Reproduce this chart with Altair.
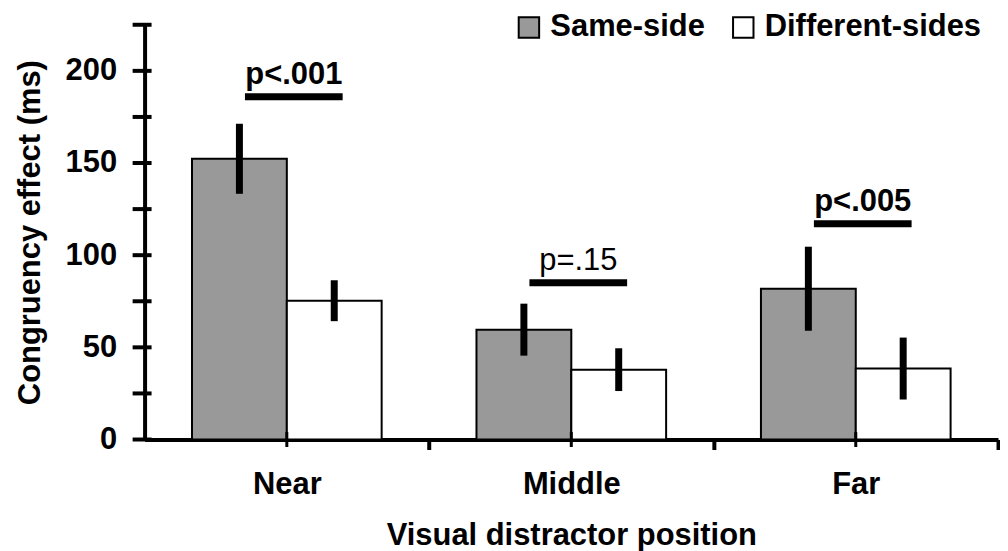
import altair as alt
import pandas as pd

positions = ["Near", "Middle", "Far"]
conditions = ["Same-side", "Different-sides"]
same_means = [152.3, 59.6, 81.8]
same_errs = [19.0, 14.1, 22.8]
diff_means = [75.3, 37.9, 38.5]
diff_errs = [11.1, 11.6, 16.8]
sig_labels = ["p<.001", "p=.15", "p<.005"]
sig_heights = [186, 85, 117]
sig_bold = [True, False, True]
y_tick_values = [0, 25, 50, 75, 100, 125, 150, 175, 200, 225]
bar_colors = ["#999999", "#ffffff"]

rows = []
for i, p in enumerate(positions):
    rows.append(dict(position=p, condition=conditions[0], mean=same_means[i], err=same_errs[i]))
    rows.append(dict(position=p, condition=conditions[1], mean=diff_means[i], err=diff_errs[i]))
bars_df = pd.DataFrame(rows)
sig_df = pd.DataFrame(dict(position=positions, label=sig_labels, height=sig_heights, bold=sig_bold))
axis_df = pd.DataFrame(dict(position=positions))
ytick_df = pd.DataFrame(dict(tick=y_tick_values))

FONT = "Liberation Sans"
PLOT_W = 856
PLOT_H = 416
HALF_STEP = PLOT_W / len(positions) / 2

x_scale = alt.Scale(domain=positions, paddingInner=1 / 3, paddingOuter=1 / 6)
y_scale = alt.Scale(domain=[0, 225], nice=False, zero=True)
xoff = alt.XOffset("condition:N", sort=conditions,
                   scale=alt.Scale(domain=conditions, paddingInner=0, paddingOuter=0))

common_axis = dict(tickColor="black", tickWidth=4, domainColor="black", domainWidth=4,
                   grid=False)
x_axis = alt.Axis(title="Visual distractor position", labelAngle=0,
                  tickOffset=HALF_STEP, labelOffset=-HALF_STEP,
                  tickSize=10, labelPadding=20, titlePadding=21, **common_axis)
y_axis = alt.Axis(title="Congruency effect (ms)", values=y_tick_values,
                  labelExpr="datum.value % 50 === 0 ? datum.label : ''",
                  ticks=False, labelPadding=28, titlePadding=19, **common_axis)

x_enc = alt.X("position:N", sort=positions, scale=x_scale, axis=x_axis)


def y_enc(field):
    return alt.Y(field, scale=y_scale, axis=y_axis)


bars = alt.Chart(bars_df).mark_bar(stroke="black", strokeWidth=2).encode(
    x=x_enc,
    xOffset=xoff,
    y=y_enc("mean:Q"),
    fill=alt.Fill("condition:N", sort=conditions,
                  scale=alt.Scale(domain=conditions, range=bar_colors),
                  legend=alt.Legend(title=None, orient="none", legendX=370, legendY=-13,
                                    direction="horizontal", symbolType="square",
                                    symbolSize=420, symbolStrokeColor="black",
                                    symbolStrokeWidth=2, labelFont=FONT,
                                    labelFontSize=31, labelFontWeight="bold",
                                    labelColor="black", labelOffset=6,
                                    columnPadding=22, labelLimit=400)),
)

errs = alt.Chart(bars_df).transform_calculate(
    lo="datum.mean - datum.err", hi="datum.mean + datum.err"
).mark_rule(color="black", strokeWidth=7).encode(
    x=x_enc,
    xOffset=xoff,
    y=y_enc("lo:Q"),
    y2="hi:Q",
)

# y-axis tick marks crossing the axis line, placed through the y scale
y_ticks = alt.Chart(ytick_df).mark_rule(color="black", strokeWidth=4).encode(
    x=alt.value(-12),
    x2=alt.value(7),
    y=y_enc("tick:Q"),
)

center_ticks = alt.Chart(axis_df).transform_calculate(base="0").mark_tick(
    orient="vertical", color="black", opacity=1, size=15, thickness=3
).encode(
    x=x_enc,
    y=y_enc("base:Q"),
)

sig_lines = alt.Chart(sig_df).mark_tick(orient="horizontal", color="black", opacity=1,
                                        size=98, thickness=7, xOffset=7).encode(
    x=x_enc,
    y=y_enc("height:Q"),
)

sig_text_bold = alt.Chart(sig_df).transform_filter("datum.bold").mark_text(
    font=FONT, fontSize=31, fontWeight="bold", color="black",
    baseline="alphabetic", dy=-13, xOffset=7
).encode(
    x=x_enc,
    y=y_enc("height:Q"),
    text="label:N",
)

sig_text_plain = alt.Chart(sig_df).transform_filter("!datum.bold").mark_text(
    font=FONT, fontSize=31, fontWeight="normal", color="black",
    baseline="alphabetic", dy=-13, xOffset=7
).encode(
    x=x_enc,
    y=y_enc("height:Q"),
    text="label:N",
)

chart = alt.layer(bars, errs, y_ticks, center_ticks, sig_lines,
                  sig_text_bold, sig_text_plain).properties(
    width=PLOT_W,
    height=PLOT_H,
    padding={"left": 6, "top": 3, "right": 0, "bottom": 0},
).configure_view(stroke=None).configure_axis(
    labelFont=FONT, labelFontSize=31, labelFontWeight="bold", labelColor="black",
    titleFont=FONT, titleFontSize=31, titleFontWeight="bold", titleColor="black",
)

chart.save("out.html", embed_options={"renderer": "svg", "actions": False})
